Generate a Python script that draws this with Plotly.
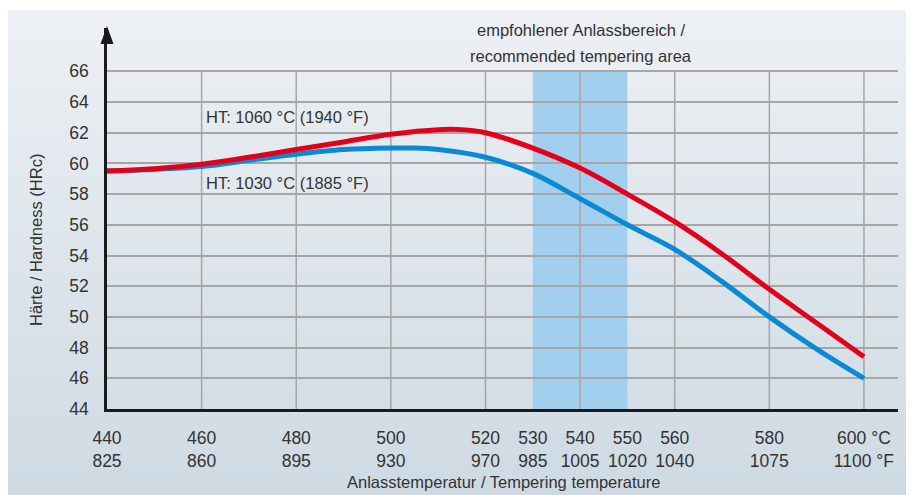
import plotly.graph_objects as go

# Anlassschaubild: Haerte ueber Anlasstemperatur
temp_1060 = [440, 450, 460, 470, 480, 490, 500, 510, 515, 520, 530, 540, 550, 560, 570, 580, 590, 600]
hrc_1060 = [59.5, 59.65, 59.95, 60.4, 60.9, 61.4, 61.9, 62.2, 62.2, 62.0, 61.0, 59.7, 58.0, 56.2, 54.1, 51.8, 49.6, 47.4]

temp_1030 = [440, 460, 470, 480, 490, 500, 505, 510, 520, 530, 540, 550, 560, 570, 580, 590, 600]
hrc_1030 = [59.5, 59.8, 60.2, 60.6, 60.9, 61.0, 61.0, 60.9, 60.4, 59.35, 57.7, 56.0, 54.4, 52.3, 50.0, 47.9, 46.0]

tick_c = [440, 460, 480, 500, 520, 530, 540, 550, 560, 580, 600]
tick_f = ['825', '860', '895', '930', '970', '985', '1005', '1020', '1040', '1075', '1100']
grid_c = [460, 480, 500, 520, 540, 560, 580, 600]
hrc_ticks = [44, 46, 48, 50, 52, 54, 56, 58, 60, 62, 64, 66]
band = [530, 550]

FONT = 'Liberation Sans, Arial, sans-serif'
TXT = '#333333'
OFF = 8  # page body margin
W, H = 914 - OFF, 495 - OFF
L, R, T, B = 107 - OFF, 16, 28 - OFF, 86
pw, ph = W - L - R, H - T - B

# helpers: page pixel -> paper coords
def px(x):
    return (x - OFF - L) / pw

def py(y):
    return (H - B - (y - OFF)) / ph

ticktext = [f'{c}<br>{f}' for c, f in zip(tick_c, tick_f)]
ticktext[-1] = f'{tick_c[-1]} °C<br>{tick_f[-1]} °F'

fig = go.Figure()
fig.add_trace(go.Scatter(x=temp_1030, y=hrc_1030, mode='lines',
                         line=dict(color='#0a8ad4', width=5, shape='spline', smoothing=1.0)))
fig.add_trace(go.Scatter(x=temp_1060, y=hrc_1060, mode='lines',
                         line=dict(color='#e3001b', width=5, shape='spline', smoothing=1.0)))

shapes = []
# background gradient
n = 48
top = (237, 240, 244)
bot = (206, 218, 227)
y0, y1 = 10, 495
for i in range(n):
    f = i / (n - 1)
    col = 'rgb(%d,%d,%d)' % tuple(round(a + (b - a) * f) for a, b in zip(top, bot))
    ya = y0 + (y1 - y0) * i / n
    yb = y0 + (y1 - y0) * (i + 1) / n + 1
    shapes.append(dict(type='rect', xref='paper', yref='paper', layer='below',
                       x0=px(OFF), x1=px(916), y0=py(yb), y1=py(ya),
                       line=dict(width=0), fillcolor=col))
# recommended band
shapes.append(dict(type='rect', xref='x', yref='y', layer='below',
                   x0=band[0], x1=band[1], y0=44, y1=66,
                   line=dict(width=0), fillcolor='#a3cfee'))
for g in grid_c:
    shapes.append(dict(type='line', xref='x', yref='y', layer='below',
                       x0=g, x1=g, y0=44, y1=66,
                       line=dict(color='#a6a6a6', width=1.5)))
# arrow head on y axis
shapes.append(dict(type='path', xref='paper', yref='paper', layer='above',
                   path=f'M {px(107-6.5)},{py(44)} L {px(107)},{py(26)} L {px(107+6.5)},{py(44)} Z',
                   line=dict(width=0), fillcolor='#1a1a1a'))

afont = dict(size=16.5, color=TXT, family=FONT)
annotations = [
    dict(x=460.6, y=63.0, xref='x', yref='y', text='HT: 1060 °C (1940 °F)', showarrow=False,
         xanchor='left', yanchor='middle', font=afont),
    dict(x=460.6, y=58.7, xref='x', yref='y', text='HT: 1030 °C (1885 °F)', showarrow=False,
         xanchor='left', yanchor='middle', font=afont),
    dict(x=px(581), y=py(30), xref='paper', yref='paper', text='empfohlener Anlassbereich /',
         showarrow=False, xanchor='center', yanchor='middle', font=afont),
    dict(x=px(581), y=py(56), xref='paper', yref='paper', text='recommended tempering area',
         showarrow=False, xanchor='center', yanchor='middle', font=afont),
    dict(x=px(503), y=py(482), xref='paper', yref='paper', text='Anlasstemperatur / Tempering temperature',
         showarrow=False, xanchor='center', yanchor='middle', font=afont),
    dict(x=px(36), y=py(240), xref='paper', yref='paper', text='Härte / Hardness (HRc)', textangle=-90,
         showarrow=False, xanchor='center', yanchor='middle', font=afont),
]

fig.update_layout(
    width=W, height=H, autosize=False,
    margin=dict(l=L, r=R, t=T, b=B),
    paper_bgcolor='white', plot_bgcolor='rgba(0,0,0,0)',
    showlegend=False, shapes=shapes, annotations=annotations,
    font=dict(family=FONT, size=17, color=TXT),
)
fig.update_xaxes(range=[440, 440 + pw / 4.731], tickvals=tick_c, ticktext=ticktext,
                 showgrid=False, zeroline=False, showline=True, linecolor='#1a1a1a', linewidth=2.5,
                 ticks='', ticklabelstandoff=11, tickfont=dict(size=17.5, color=TXT))
fig.update_yaxes(range=[44, 44 + ph / 15.35], tickvals=hrc_ticks,
                 showgrid=True, gridcolor='#a6a6a6', gridwidth=1.5, zeroline=False,
                 showline=True, linecolor='#1a1a1a', linewidth=2.5,
                 ticks='', ticklabelstandoff=12, tickfont=dict(size=17.5, color=TXT))

fig.write_html('out.html')
